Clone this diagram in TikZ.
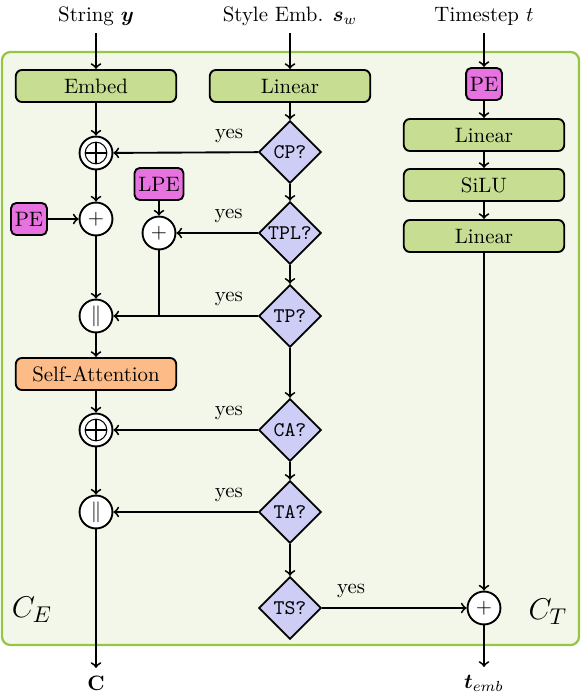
\documentclass[tikz,border=0pt]{standalone}
\usepackage{amsmath}
\usepackage{amssymb}
\usepackage{bm}
\usepackage{tikz}
\usetikzlibrary{shapes,backgrounds}

\definecolor{boxgreen}{RGB}{198,221,146}
\definecolor{pepink}{RGB}{231,115,224}
\definecolor{checkblue}{RGB}{205,205,245}
\definecolor{attorange}{RGB}{253,188,135}
\definecolor{encfill}{RGB}{242,247,233}
\definecolor{encborder}{RGB}{150,198,68}

\begin{document}
\begin{tikzpicture}[x=0.48pt, y=-0.48pt, line width=0.9pt, >=to,
	block/.style={draw, rounded corners=3pt, fill=boxgreen, minimum width=77pt, minimum height=15.4pt},
	attn/.style={block, fill=attorange},
	pebox/.style={draw, rounded corners=2.5pt, fill=pepink, inner sep=1.8pt, minimum height=15.4pt},
	check/.style={diamond, draw, fill=checkblue, inner sep=0pt, minimum width=30pt, minimum height=30pt, font=\ttfamily},
	sumnode/.style={circle, draw, fill=white, inner sep=0pt, minimum size=15.8pt},
	oplusnode/.style={sumnode, path picture={
		\draw[line width=0.5pt] (path picture bounding box.center) circle (5.2pt);
		\draw[line width=0.5pt] ([xshift=-5.2pt]path picture bounding box.center) -- ([xshift=5.2pt]path picture bounding box.center);
		\draw[line width=0.5pt] ([yshift=-5.2pt]path picture bounding box.center) -- ([yshift=5.2pt]path picture bounding box.center);}},
	yes/.style={above, yshift=1pt},
	cornerlabel/.style={font=\fontsize{15.8}{18}\selectfont}]

	\useasboundingbox (0,0) rectangle (581,696);

	% inputs
	\node (stry) at (96,16) {String $\bm{y}$};
	\node (strs) at (290,16) {Style Emb. $\bm{s}_w$};
	\node (strt) at (484,16) {Timestep $t$};

	% string branch
	\node[block] (embed) at (96,86) {Embed};
	\node[oplusnode] (addCP) at (96,153) {};
	\node[sumnode] (addPE) at (96,219) {$+$};
	\node[pebox] (peS) at (29,219) {PE};
	\node[pebox] (lpe) at (159,184) {LPE};
	\node[sumnode] (addLPE) at (159,233) {$+$};
	\node[sumnode] (catTP) at (96,316) {$\|$};
	\node[attn] (attn) at (96,374) {Self-Attention};
	\node[oplusnode] (addCA) at (96,430) {};
	\node[sumnode] (catTA) at (96,512) {$\|$};

	% style branch
	\node[block] (linS) at (290,86) {Linear};
	\node[check] (cp) at (290,152) {CP?};
	\node[check] (tpl) at (290,233) {TPL?};
	\node[check] (tp) at (290,316) {TP?};
	\node[check] (ca) at (290,430) {CA?};
	\node[check] (ta) at (290,512) {TA?};
	\node[check] (ts) at (290,608) {TS?};

	% timestep branch
	\node[pebox] (peT) at (484,84) {PE};
	\node[block] (linA) at (484,135) {Linear};
	\node[block] (silu) at (484,185) {SiLU};
	\node[block] (linB) at (484,236) {Linear};
	\node[sumnode] (addTS) at (484,608) {$+$};

	% outputs
	\node (outC) at (96,683) {$\mathbf{C}$};
	\node (outT) at (484,683) {$\bm{t}_{emb}$};
	\node[cornerlabel] (labE) at (32,610) {$C_E$};
	\node[cornerlabel] (labT) at (548,612) {$C_T$};

	\draw[->] (stry) -- (embed);
	\draw[->] (embed) -- (addCP);
	\draw[->] (addCP) -- (addPE);
	\draw[->] (peS) -- (addPE);
	\draw[->] (addPE) -- (catTP);
	\draw[->] (catTP) -- (attn);
	\draw[->] (attn) -- (addCA);
	\draw[->] (addCA) -- (catTA);
	\draw[->] (catTA) -- (outC);
	\draw[->] (lpe) -- (addLPE);
	\draw (addLPE) -- (addLPE |- catTP);

	\draw[->] (strs) -- (linS);
	\draw[->] (linS) -- (cp);
	\draw[->] (cp) -- (tpl);
	\draw[->] (tpl) -- (tp);
	\draw[->] (tp) -- (ca);
	\draw[->] (ca) -- (ta);
	\draw[->] (ta) -- (ts);

	\draw[->] (cp) -- node[yes, pos=0.2] {yes} (addCP);
	\draw[->] (tpl) -- node[yes, pos=0.36] {yes} (addLPE);
	\draw[->] (tp) -- node[yes, pos=0.2] {yes} (catTP);
	\draw[->] (ca) -- node[yes, pos=0.2] {yes} (addCA);
	\draw[->] (ta) -- node[yes, pos=0.2] {yes} (catTA);
	\draw[->] (ts) -- node[yes, pos=0.2] {yes} (addTS);

	\draw[->] (strt) -- (peT);
	\draw[->] (peT) -- (linA);
	\draw[->] (linA) -- (silu);
	\draw[->] (silu) -- (linB);
	\draw[->] (linB) -- (addTS);
	\draw[->] (addTS) -- (outT);

	\begin{scope}[on background layer]
		\draw[encborder, fill=encfill, line width=1.1pt, rounded corners=4pt] (2,52) rectangle (579,645);
	\end{scope}

\end{tikzpicture}
\end{document}
